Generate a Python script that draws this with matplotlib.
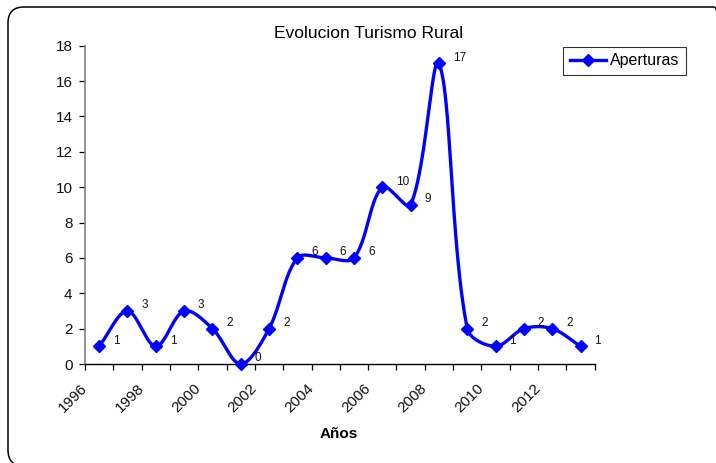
import numpy as np
import matplotlib
matplotlib.use("Agg")
import matplotlib.pyplot as plt
from matplotlib.patches import FancyBboxPatch
import matplotlib.transforms as mtransforms

years = [1996, 1997, 1998, 1999, 2000, 2001, 2002, 2003, 2004, 2005,
         2006, 2007, 2008, 2009, 2010, 2011, 2012, 2013]
aperturas = [1, 3, 1, 3, 2, 0, 2, 6, 6, 6, 10, 9, 17, 2, 1, 2, 2, 1]
xtick_labels = ["1996", "1998", "2000", "2002", "2004", "2006", "2008", "2010", "2012"]
yticks = [0, 2, 4, 6, 8, 10, 12, 14, 16, 18]
title = "Evolucion Turismo Rural"
xlabel = "Años"
series_name = "Aperturas"

plt.rcParams['font.family'] = ['Liberation Sans', 'DejaVu Sans']

W, H = 716, 463
fig = plt.figure(figsize=(W / 100, H / 100), dpi=100)
ax = fig.add_axes([85 / W, 1 - 364 / H, (594.7 - 85) / W, (364 - 45.7) / H])

# rounded chart border (in inches so the corner stays round)
border = FancyBboxPatch((8 / 100, (H - 466) / 100), (730 - 8) / 100, (466 - 7) / 100,
                        boxstyle="round,pad=0,rounding_size=0.16",
                        transform=fig.dpi_scale_trans, fill=False,
                        edgecolor='black', linewidth=1.1, zorder=-1)
fig.patches.append(border)

# categories are centred between year ticks
xpos = np.array(years, dtype=float) + 0.5
yvals = np.array(aperturas, dtype=float)

ax.set_xlim(1996, 2014)
ax.set_ylim(0, 18)

# Excel-like smoothing in display space, tangents scaled by segment lengths
fig.canvas.draw()
pts = ax.transData.transform(np.column_stack([xpos, yvals]))
n = len(pts)
tang_in = np.zeros_like(pts)
tang_out = np.zeros_like(pts)
for i in range(n):
    p0 = pts[i - 1] if i > 0 else pts[i]
    p2 = pts[i + 1] if i + 1 < n else pts[i]
    d01 = np.linalg.norm(pts[i] - p0)
    d12 = np.linalg.norm(p2 - pts[i])
    tot = d01 + d12
    if tot == 0:
        continue
    v = (p2 - p0)
    tang_out[i] = v * (d12 / tot) / 3.0
    tang_in[i] = v * (d01 / tot) / 3.0
curve = []
for i in range(n - 1):
    p1 = pts[i]
    p2 = pts[i + 1]
    c1 = p1 + tang_out[i]
    c2 = p2 - tang_in[i + 1]
    t = np.linspace(0, 1, 50)[:, None]
    seg = ((1 - t) ** 3) * p1 + 3 * ((1 - t) ** 2) * t * c1 + 3 * (1 - t) * t ** 2 * c2 + t ** 3 * p2
    curve.append(seg if i == 0 else seg[1:])
curve = np.vstack(curve)
curve_data = ax.transData.inverted().transform(curve)

ax.plot(curve_data[:, 0], curve_data[:, 1], color='#0000FF', linewidth=2.4,
        solid_capstyle='round', solid_joinstyle='round', zorder=3, clip_on=False)
ax.plot(xpos, yvals, linestyle='none', marker='D', markersize=6.5,
        color='#0000FF', zorder=4, clip_on=False)
# legend proxy
ax.plot([], [], color='#0000FF', linewidth=2.4, marker='D', markersize=6.5,
        label=series_name)

for x, y in zip(xpos, yvals):
    ax.annotate(f"{int(y)}", (x, y), xytext=(10, 4), textcoords='offset points',
                ha='left', va='center', fontsize=8.5, color='#111111')

ax.set_xticks(np.arange(1996, 2015, 1))
labels = []
for yr in range(1996, 2015):
    s = str(yr)
    labels.append(s if s in xtick_labels else "")
ax.set_xticklabels(labels, rotation=45, ha='right', va='center',
                   rotation_mode='anchor', fontsize=11)
offset = mtransforms.ScaledTranslation(4 / 100, 0, fig.dpi_scale_trans)
for lab in ax.get_xticklabels():
    lab.set_transform(lab.get_transform() + offset)

ax.set_yticks(yticks)
ax.set_yticklabels([str(v) for v in yticks], fontsize=11)

ax.tick_params(axis='x', direction='out', length=4, width=0.9, pad=12, colors='black')
ax.tick_params(axis='y', direction='out', length=4, width=0.9, pad=5, colors='black')
for lab in ax.get_yticklabels() + ax.get_xticklabels():
    lab.set_color('#111111')

ax.spines['top'].set_visible(False)
ax.spines['right'].set_visible(False)
ax.spines['left'].set_color('#808080')
ax.spines['left'].set_linewidth(1.2)
ax.spines['bottom'].set_color('black')
ax.spines['bottom'].set_linewidth(1.0)

fig.text(369 / W, 1 - 33 / H, title, ha='center', va='center', fontsize=12.5)
fig.text(339 / W, 1 - 434 / H, xlabel, ha='center', va='center',
         fontsize=11, fontweight='bold')

leg = ax.legend(loc='upper left', bbox_to_anchor=(563.3 / W, 1 - 47 / H),
                bbox_transform=fig.transFigure, frameon=True, fancybox=False,
                edgecolor='black', fontsize=11.5, handlelength=2.3,
                borderpad=0.4, handletextpad=0.25, borderaxespad=0)
leg.get_frame().set_linewidth(0.8)

fig.savefig("out.png", dpi=100)
